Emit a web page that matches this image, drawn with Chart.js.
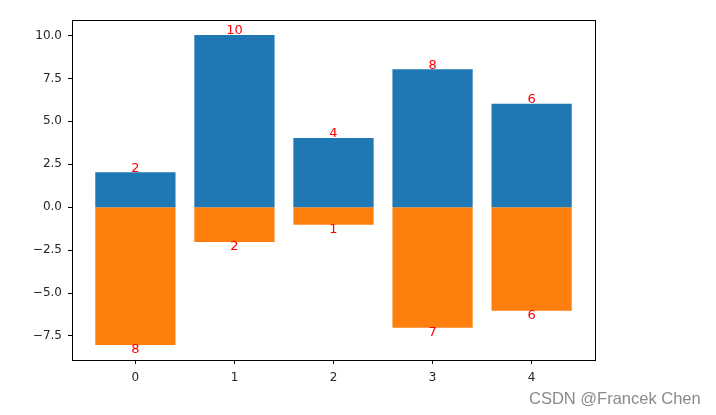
<!DOCTYPE html>
<html>
<head>
<meta charset="utf-8">
<script src="https://cdn.jsdelivr.net/npm/chart.js@4"></script>
<style>
  html, body { margin: 0; padding: 0; background: #fff; }
  #wrap { position: relative; width: 716px; height: 415px; }
  #credit { position: absolute; left: 529px; top: 389px; font: 16.5px "Liberation Sans", Arial, sans-serif; color: #8a8a8a; white-space: nowrap; }
</style>
</head>
<body>
<div id="wrap">
  <canvas id="myChart" width="716" height="415"></canvas>
  <div id="credit">CSDN @Francek Chen</div>
</div>
<script>
const positions = [0, 1, 2, 3, 4];
const upValues = [2, 10, 4, 8, 6];
const downValues = [-8, -2, -1, -7, -6];
const yTicks = [-7.5, -5.0, -2.5, 0.0, 2.5, 5.0, 7.5, 10.0];

const tickFont = { family: "'DejaVu Sans', sans-serif", size: 12 };

// matplotlib-like frame around the plot area
const frame = {
  id: "frame",
  afterDraw(chart) {
    const a = chart.chartArea;
    const ctx = chart.ctx;
    ctx.save();
    ctx.strokeStyle = "#000";
    ctx.lineWidth = 1;
    ctx.strokeRect(a.left + 0.5, a.top + 0.5, a.right - a.left, a.bottom - a.top);
    ctx.restore();
  },
};

// value labels at the end of every bar
const barLabels = {
  id: "barLabels",
  afterDatasetsDraw(chart) {
    const ctx = chart.ctx;
    ctx.save();
    ctx.fillStyle = "#ff0000";
    ctx.font = "13px 'DejaVu Sans', sans-serif";
    ctx.textAlign = "center";
    chart.data.datasets.forEach((ds, i) => {
      chart.getDatasetMeta(i).data.forEach((bar, j) => {
        const v = ds.data[j].y;
        if (v >= 0) {
          ctx.textBaseline = "bottom";
          ctx.fillText(String(Math.abs(v)), bar.x, bar.y + 2);
        } else {
          ctx.textBaseline = "top";
          ctx.fillText(String(Math.abs(v)), bar.x, bar.y - 1);
        }
      });
    });
    ctx.restore();
  },
};

const ctx = document.getElementById("myChart").getContext("2d");
const myChart = new Chart(ctx, {
  type: "bar",
  data: {
    datasets: [
      {
        label: "up",
        data: positions.map((x, i) => ({ x: x, y: upValues[i] })),
        backgroundColor: "#1f77b4",
        borderWidth: 0,
        inflateAmount: 0.5,
        grouped: false,
        barPercentage: 0.8,
        categoryPercentage: 1,
      },
      {
        label: "down",
        data: positions.map((x, i) => ({ x: x, y: downValues[i] })),
        backgroundColor: "#ff7f0e",
        borderWidth: 0,
        inflateAmount: 0.5,
        grouped: false,
        barPercentage: 0.8,
        categoryPercentage: 1,
      },
    ],
  },
  options: {
    responsive: false,
    animation: false,
    layout: { padding: { left: 0, top: 20, right: 121, bottom: 25 } },
    plugins: {
      legend: { display: false },
      tooltip: { enabled: false },
    },
    scales: {
      x: {
        type: "linear",
        offset: false,
        min: -0.64,
        max: 4.64,
        afterBuildTicks: (axis) => {
          axis.ticks = positions.map((v) => ({ value: v }));
        },
        afterFit: (axis) => {
          axis.height = 30;
        },
        grid: { offset: false, drawOnChartArea: false, drawTicks: true, tickLength: 4, tickColor: "#000" },
        border: { display: false },
        ticks: { color: "#262626", font: tickFont, padding: 7, maxRotation: 0 },
      },
      y: {
        min: -8.9,
        max: 10.9,
        afterBuildTicks: (axis) => {
          axis.ticks = yTicks.map((v) => ({ value: v }));
        },
        afterFit: (axis) => {
          axis.width = 72;
        },
        grid: { drawOnChartArea: false, drawTicks: true, tickLength: 4, tickColor: "#000" },
        border: { display: false },
        ticks: {
          color: "#262626",
          font: tickFont,
          padding: 6,
          callback: (v) => v.toFixed(1).replace("-", "\u2212"),
        },
      },
    },
  },
  plugins: [frame, barLabels],
});
</script>
</body>
</html>
